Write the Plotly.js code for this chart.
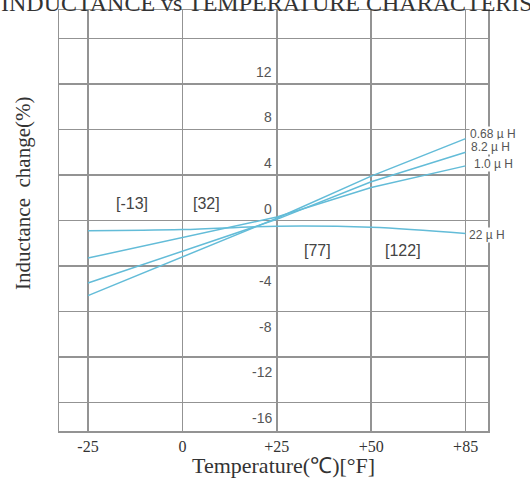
<!DOCTYPE html>
<html>
<head>
<meta charset="utf-8">
<script src="https://cdn.plot.ly/plotly-3.0.1.min.js"></script>
<style>html,body{margin:0;padding:0;background:#fff;}#chart{width:530px;height:484px;}</style>
</head>
<body>
<div id="chart"></div>
<script>
// ---- data ----
const temps = ['-25', '0', '+25', '+50', '+85'];            // °C tick labels (categories)
const fahrenheit = ['[-13]', '[32]', '[77]', '[122]'];       // °F labels
const seriesNames = ['0.68 µ H', '8.2 µ H', '1.0 µ H', '22 µ H'];
const change068 = [-6.6, -3.2, 0.2, 3.9, 7.2];
const change82  = [-5.5, -2.7, 0.1, 3.4, 6.0];
const change10  = [-3.3, -1.5, 0.3, 2.9, 4.8];
const change22  = [-0.9, -0.8, -0.5, -0.6, -1.15];
const gridVals = [-16, -12, -8, -4, 0, 4, 8, 12, 16];
const yLabelVals = [12, 8, 4, 0, -4, -8, -12, -16];

// ---- styling / placement ----
const lineColor = '#63bcd8';
const gridColor = '#939393';
const serif = '"Liberation Serif", "Times New Roman", serif';
const sans = '"Liberation Sans", Arial, sans-serif';

const allSeries = [change068, change82, change10, change22];
const traces = allSeries.map((vals, i) => ({
  x: temps, y: vals, type: 'scatter', mode: 'lines', name: seriesNames[i],
  line: {color: lineColor, width: 1.5, shape: i === 3 ? 'spline' : 'linear'},
  hoverinfo: 'skip', showlegend: false
}));

const annotations = [];
// y tick labels drawn inside the grid, left of the +25 line
yLabelVals.forEach(v => {
  annotations.push({
    xref: 'x', yref: 'y', x: 2, y: v, text: String(v), showarrow: false,
    xanchor: 'right', xshift: -3,
    yanchor: v >= 0 ? 'bottom' : 'top', yshift: v >= 0 ? 2 : -5,
    font: {family: sans, size: 14, color: '#555'}
  });
});
// °F labels
const fPos = [[0.47, 1.5], [1.26, 1.5], [2.43, -2.6], [3.34, -2.6]];
fahrenheit.forEach((t, i) => {
  annotations.push({
    xref: 'x', yref: 'y', x: fPos[i][0], y: fPos[i][1], text: t, showarrow: false,
    xanchor: 'center', yanchor: 'middle',
    font: {family: sans, size: 16, color: '#444'}
  });
});
// series labels at right end
const labelY = [7.6, 6.45, 5.0, -1.3];
const labelX = [0.956, 0.958, 0.966, 0.954];
seriesNames.forEach((t, i) => {
  annotations.push({
    xref: 'paper', yref: 'y', x: labelX[i], y: labelY[i], text: t, showarrow: false,
    xanchor: 'left', yanchor: 'middle', bgcolor: '#fff', borderpad: 0,
    font: {family: sans, size: 12, color: '#555'}
  });
});
// chart title (cut at top edge like the source)
annotations.push({
  xref: 'paper', yref: 'paper', x: -0.14, y: 1, xanchor: 'left', yanchor: 'bottom', yshift: -8,
  text: 'INDUCTANCE vs TEMPERATURE CHARACTERISTICS', showarrow: false,
  font: {family: serif, size: 24, color: '#333'}
});
// axis titles
annotations.push({
  xref: 'paper', yref: 'paper', x: -0.084, y: 0.565, textangle: -90,
  xanchor: 'center', yanchor: 'middle',
  text: 'Inductance&nbsp;&nbsp;change(%)', showarrow: false,
  font: {family: serif, size: 21, color: '#333'}
});
annotations.push({
  xref: 'paper', yref: 'paper', x: 0.523, y: -0.083,
  xanchor: 'center', yanchor: 'middle',
  text: 'Temperature(℃)[°F]', showarrow: false,
  font: {family: serif, size: 22, color: '#333'}
});

const layout = {
  width: 530, height: 484,
  margin: {l: 59, r: 42, t: 10, b: 53},
  paper_bgcolor: '#fff', plot_bgcolor: '#fff',
  xaxis: {
    type: 'category', range: [-0.307, 4.237],
    showgrid: true, gridcolor: gridColor, gridwidth: 1.5,
    showline: true, mirror: true, linecolor: gridColor, linewidth: 1.5,
    ticks: '', tickfont: {family: serif, size: 16, color: '#333'},
    zeroline: false
  },
  yaxis: {
    range: [-18.5, 18.5], tickvals: gridVals, showticklabels: false,
    showgrid: true, gridcolor: gridColor, gridwidth: 1.5,
    zeroline: false,
    showline: true, mirror: true, linecolor: gridColor, linewidth: 1.5,
    ticks: ''
  },
  annotations: annotations,
  showlegend: false
};

Plotly.newPlot('chart', traces, layout, {displayModeBar: false, staticPlot: true});
</script>
</body>
</html>
